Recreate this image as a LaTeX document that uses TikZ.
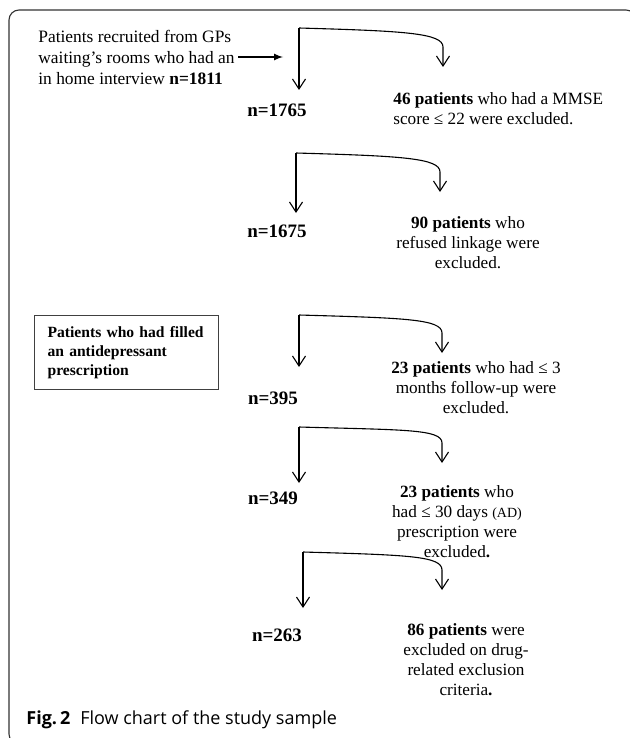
\documentclass[tikz,border=0pt]{standalone}
\usepackage{fontspec}
\setmainfont{Liberation Serif}
\newfontfamily\capfont{Open Sans}
\usepackage{amsmath}
\usetikzlibrary{arrows,arrows.meta,positioning}
\usetikzlibrary{calc}

\tikzset{
  frame/.style={draw=black!80, line width=0.55pt, rounded corners=5pt},
  barb/.style={-{Straight Barb[length=5pt,width=6.5pt]}, line width=0.55pt},
  count/.style={font=\fontsize{9.5}{11}\selectfont\bfseries, inner sep=0pt},
  excl/.style={font=\fontsize{8.6}{10}\selectfont, align=center, inner sep=0pt},
  adbox/.style={draw=black!75, line width=0.6pt, font=\fontsize{7.8}{9.5}\selectfont\bfseries,
    align=left, text width=79pt, inner xsep=6.5pt, minimum height=37pt}
}

\begin{document}
\begin{tikzpicture}[x=0.5pt,y=-0.5pt]
\useasboundingbox (0,0) rectangle (630,738);
\draw[frame] (9,10) rectangle (636,744);
% recruited patients
\node[anchor=west, align=left, inner sep=0pt, font=\fontsize{8.7}{10.5}\selectfont] (src) at (38,57)
  {Patients recruited from GPs\\waiting’s rooms who had an\\in home interview \textbf{n=1811}};
\coordinate (in1) at (283,57);
\draw[-latex, line width=0.55pt, shorten <=1.5pt] (src.east) -- (in1);
% MMSE
\coordinate (a1) at (299,28);
\coordinate (l1) at (299,90);
\coordinate (r1) at (443,67);
\node[count] (n1) at (277,110) {n=1765};
\node[excl, align=left, anchor=west] (x1) at (393,109) {\textbf{46 patients} who had a MMSE\\score ≤ 22 were excluded.};
\draw[barb] (a1) -- (l1);
\draw[barb] (a1) .. controls +(105,3) and +(0,-14) .. ([yshift=10pt]r1) -- (r1);
% linkage
\coordinate (a2) at (296,153);
\coordinate (l2) at (296,213);
\coordinate (r2) at (440,192);
\node[count] (n2) at (277,231) {n=1675};
\node[excl] (x2) at (468,243) {\textbf{90 patients} who\\refused linkage were\\excluded.};
\draw[barb] (a2) -- (l2);
\draw[barb] (a2) .. controls +(105,3) and +(0,-14) .. ([yshift=10pt]r2) -- (r2);
% antidepressant users
\node[adbox, anchor=north west] (ad) at (34,315) {Patients who had filled\\an antidepressant\\prescription};
% follow-up
\coordinate (a3) at (299,315);
\coordinate (l3) at (299,367);
\coordinate (r3) at (442,353);
\node[count] (n3) at (273,398) {n=395};
\node[excl] (x3) at (476,388) {\textbf{23 patients} who had ≤ 3\\months follow-up were\\excluded.};
\draw[barb] (a3) -- (l3);
\draw[barb] (a3) .. controls +(105,3) and +(0,-14) .. ([yshift=10pt]r3) -- (r3);
% prescription length
\coordinate (a4) at (299,427);
\coordinate (l4) at (299,483);
\coordinate (r4) at (442,463);
\node[count] (n4) at (273,498) {n=349};
\node[excl] (x4) at (457,522) {\textbf{23 patients} who\\had ≤ 30 days {\fontsize{7}{10}\selectfont(AD)}\\prescription were\\excluded\textbf{.}};
\draw[barb] (a4) -- (l4);
\draw[barb] (a4) .. controls +(105,3) and +(0,-14) .. ([yshift=10pt]r4) -- (r4);
% drug-related criteria
\coordinate (a5) at (303,552);
\coordinate (l5) at (303,608);
\coordinate (r5) at (442,590);
\node[count] (n5) at (277,635) {n=263};
\node[excl] (x5) at (466,660) {\textbf{86 patients} were\\excluded on drug-\\related exclusion\\criteria\textbf{.}};
\draw[barb] (a5) -- (l5);
\draw[barb] (a5) .. controls +(105,3) and +(0,-14) .. ([yshift=10pt]r5) -- (r5);
% caption
\node[anchor=west, inner sep=0pt, font=\capfont\fontsize{9}{11}\selectfont] (cap) at (26,720)
  {\textbf{Fig.\,2}\hspace{5pt}Flow chart of the study sample};
\end{tikzpicture}
\end{document}
